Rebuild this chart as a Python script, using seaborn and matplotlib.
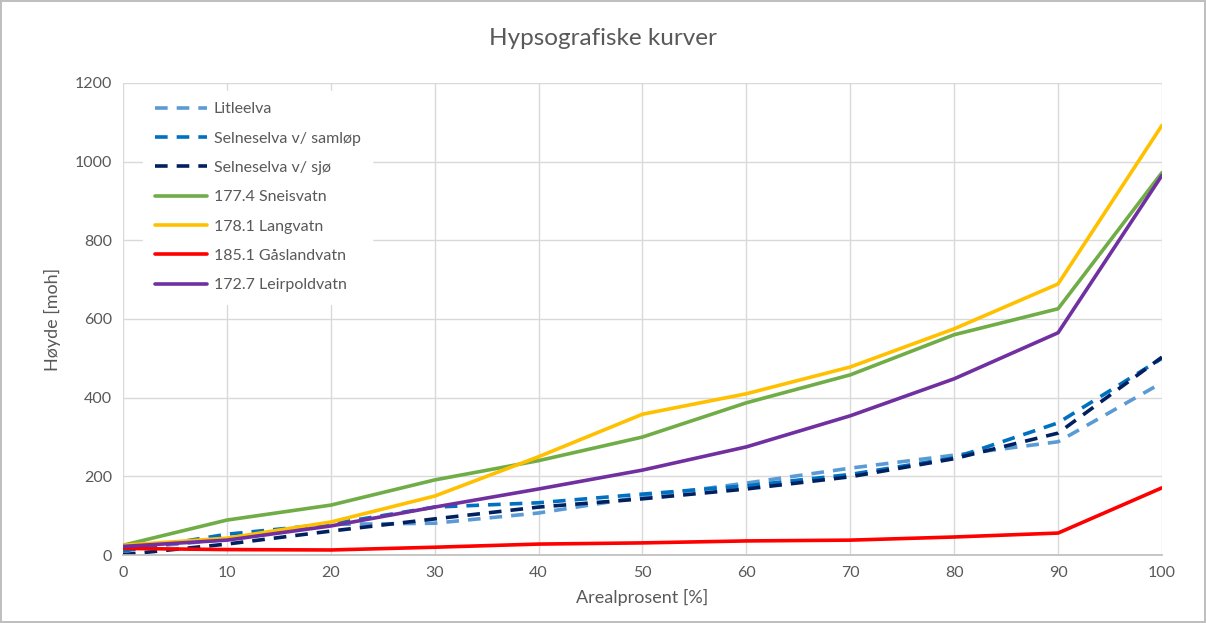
import matplotlib
matplotlib.use("Agg")
import matplotlib.pyplot as plt
import seaborn as sns
import pandas as pd

arealprosent = [0, 10, 20, 30, 40, 50, 60, 70, 80, 90, 100]
litleelva = [15, 40, 78, 81, 107, 148, 183, 221, 254, 288, 438]
selneselva_samlop = [10, 53, 79, 122, 133, 155, 176, 205, 247, 336, 500]
selneselva_sjo = [1, 28, 61, 92, 122, 143, 168, 199, 245, 310, 503]
sneisvatn = [25, 89, 127, 191, 240, 300, 387, 458, 560, 626, 972]
langvatn = [25, 43, 84, 150, 250, 358, 410, 478, 575, 689, 1092]
gaslandvatn = [17, 14, 13, 20, 28, 31, 36, 38, 46, 56, 171]
leirpoldvatn = [22, 38, 74, 122, 168, 216, 275, 354, 448, 565, 965]

series_names = ["Litleelva", "Selneselva v/ samløp", "Selneselva v/ sjø",
                "177.4 Sneisvatn", "178.1 Langvatn", "185.1 Gåslandvatn",
                "172.7 Leirpoldvatn"]
series_values = [litleelva, selneselva_samlop, selneselva_sjo, sneisvatn,
                 langvatn, gaslandvatn, leirpoldvatn]
colors = ["#5B9BD5", "#0070C0", "#002060", "#70AD47", "#FFC000", "#FF0000", "#7030A0"]
dashed = [True, True, True, False, False, False, False]

rows = []
for name, vals in zip(series_names, series_values):
    for x, y in zip(arealprosent, vals):
        rows.append({"Arealprosent": x, "Høyde": y, "Serie": name})
df = pd.DataFrame(rows)

sns.set_theme(style="white")
plt.rcParams['font.family'] = ['Lato', 'DejaVu Sans']

fig = plt.figure(figsize=(12.06, 6.23), dpi=100)
fig.patch.set_edgecolor("#BFBFBF")
fig.patch.set_linewidth(1.5)
ax = fig.add_axes([0.102, 0.109, 0.8615, 0.758])

for name, c, d in zip(series_names, colors, dashed):
    sub = df[df["Serie"] == name]
    sns.lineplot(data=sub, x="Arealprosent", y="Høyde", ax=ax, color=c,
                 linewidth=2.6, label=name,
                 linestyle=(0, (3.5, 2.5)) if d else "-")

ax.set_xlim(0, 100)
ax.set_ylim(0, 1200)
ax.set_xticks(arealprosent)
ax.set_yticks(range(0, 1201, 200))
ax.grid(True, color="#D9D9D9", linewidth=1)
ax.set_axisbelow(True)
for s in ["top", "right", "left"]:
    ax.spines[s].set_visible(False)
ax.spines["bottom"].set_color("#BFBFBF")
ax.tick_params(axis="both", colors="#595959", labelsize=11.5, length=0, pad=8)
ax.set_xlabel("Arealprosent [%]", color="#595959", fontsize=13, labelpad=6)
ax.set_ylabel("Høyde [moh]", color="#595959", fontsize=13, labelpad=10)
fig.suptitle("Hypsografiske kurver", color="#595959", fontsize=17.5, y=0.955)

leg = ax.legend(loc="upper left", bbox_to_anchor=(0.012, 1.0), frameon=True,
                fontsize=11.5, handlelength=3.3, handletextpad=0.4,
                labelspacing=0.95, borderpad=0.7)
leg.get_frame().set_facecolor("white")
leg.get_frame().set_edgecolor("white")
leg.get_frame().set_alpha(1)
leg.get_frame().set_boxstyle("square", pad=0)
for t in leg.get_texts():
    t.set_color("#595959")

fig.savefig("out.png", dpi=100, edgecolor=fig.get_edgecolor())
